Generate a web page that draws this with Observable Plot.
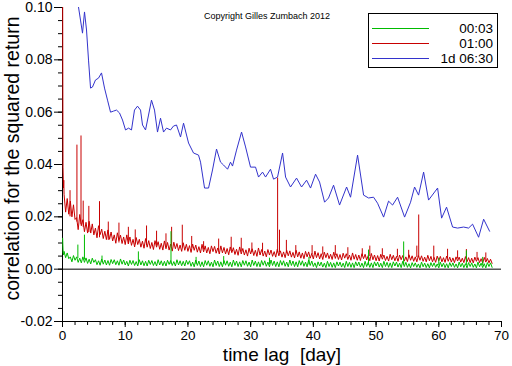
<!DOCTYPE html>
<html><head><meta charset="utf-8">
<script src="https://cdn.jsdelivr.net/npm/d3@7"></script>
<script src="https://cdn.jsdelivr.net/npm/@observablehq/plot@0.6"></script>
<style>body{margin:0;background:#fff;} svg{display:block;}</style>
</head><body><div id="chart"></div>
<script>
// ---- series identity ----
const seriesNames = ["00:03", "01:00", "1d 06:30"];
const seriesColors = ["#00bb00", "#c80000", "#3333cc"];

// ---- axis ticks ----
const xTicks = [0, 10, 20, 30, 40, 50, 60, 70];
const xMinorTicks = [0,2,4,6,8,10,12,14,16,18,20,22,24,26,28,30,32,34,36,38,40,42,44,46,48,50,52,54,56,58,60,62,64,66,68,70];
const yTicks = [-0.02, 0.00, 0.02, 0.04, 0.06, 0.08, 0.10];
const yMinorTicks = [-0.02,-0.015,-0.01,-0.005,0,0.005,0.01,0.015,0.02,0.025,0.03,0.035,0.04,0.045,0.05,0.055,0.06,0.065,0.07,0.075,0.08,0.085,0.09,0.095,0.1];

// ---- 00:03 and 01:00 : values on a regular lag grid (0.25, 0.50, ... 68.5 days), one row per day ----
const gridStep = 0.25;
const redVal = [
 .0286,.0218,.0270,.0210, .0260,.0200,.0246,.0190, .0197,.0151,.0209,.0166, .0189,.0143,.0179,.0138,
 .0183,.0138,.0173,.0131, .0157,.0120,.0166,.0132, .0153,.0117,.0145,.0113, .0150,.0114,.0142,.0108,
 .0131,.0099,.0139,.0109, .0130,.0098,.0123,.0094, .0131,.0097,.0123,.0091, .0114,.0085,.0121,.0094,
 .0114,.0084,.0107,.0080, .0117,.0084,.0109,.0079, .0102,.0075,.0109,.0084, .0105,.0076,.0099,.0073,
 .0108,.0078,.0102,.0073, .0096,.0069,.0103,.0078, .0098,.0071,.0092,.0068, .0101,.0072,.0095,.0068,
 .0090,.0064,.0096,.0072, .0092,.0065,.0086,.0062, .0095,.0066,.0089,.0062, .0083,.0059,.0089,.0067,
 .0087,.0061,.0081,.0058, .0089,.0062,.0083,.0058, .0079,.0055,.0085,.0063, .0082,.0056,.0076,.0053,
 .0085,.0058,.0079,.0054, .0074,.0050,.0080,.0058, .0078,.0052,.0072,.0049, .0081,.0054,.0075,.0050,
 .0069,.0047,.0075,.0054, .0073,.0049,.0067,.0046, .0076,.0051,.0070,.0046, .0066,.0044,.0072,.0051,
 .0070,.0046,.0064,.0043, .0072,.0047,.0066,.0042, .0062,.0040,.0068,.0047, .0066,.0042,.0060,.0039,
 .0069,.0044,.0063,.0039, .0059,.0037,.0065,.0044, .0062,.0040,.0057,.0037, .0065,.0041,.0059,.0037,
 .0056,.0035,.0061,.0042, .0059,.0037,.0054,.0034, .0062,.0038,.0056,.0034, .0054,.0033,.0059,.0040,
 .0057,.0035,.0052,.0032, .0060,.0036,.0054,.0032, .0052,.0031,.0057,.0038, .0054,.0033,.0049,.0031,
 .0057,.0036,.0053,.0032, .0049,.0030,.0054,.0036, .0052,.0031,.0047,.0029, .0055,.0034,.0051,.0030,
 .0047,.0028,.0052,.0034, .0051,.0030,.0046,.0028, .0053,.0032,.0049,.0028, .0045,.0026,.0050,.0032,
 .0049,.0028,.0044,.0026, .0050,.0030,.0046,.0027, .0043,.0025,.0047,.0031, .0046,.0027,.0042,.0025,
 .0048,.0028,.0044,.0025, .0042,.0024,.0046,.0030, .0044,.0025,.0040,.0023, .0045,.0027,.0041,.0024,
 .0038,.0022];
const greenVal = [
 .0068,.0044,.0062,.0040, .0047,.0028,.0052,.0034, .0047,.0026,.0042,.0024, .0047,.0026,.0043,.0022,
 .0038,.0020,.0042,.0026, .0036,.0017,.0032,.0015, .0039,.0019,.0035,.0016, .0033,.0015,.0037,.0021,
 .0036,.0017,.0032,.0015, .0039,.0019,.0035,.0016, .0030,.0012,.0034,.0018, .0033,.0014,.0029,.0012,
 .0036,.0016,.0032,.0013, .0030,.0012,.0034,.0018, .0033,.0014,.0029,.0012, .0036,.0016,.0032,.0013,
 .0030,.0012,.0034,.0018, .0033,.0014,.0029,.0012, .0036,.0016,.0032,.0013, .0030,.0012,.0034,.0018,
 .0032,.0011,.0027,.0009, .0035,.0014,.0031,.0010, .0028,.0009,.0033,.0015, .0032,.0011,.0027,.0009,
 .0035,.0014,.0031,.0010, .0028,.0009,.0033,.0015, .0032,.0011,.0027,.0009, .0035,.0014,.0031,.0010,
 .0028,.0009,.0033,.0015, .0032,.0011,.0027,.0009, .0035,.0014,.0031,.0010, .0028,.0009,.0033,.0015,
 .0032,.0011,.0027,.0009, .0035,.0014,.0031,.0010, .0028,.0009,.0033,.0015, .0032,.0011,.0027,.0009,
 .0035,.0014,.0031,.0010, .0028,.0009,.0033,.0015, .0032,.0011,.0027,.0009, .0035,.0014,.0031,.0010,
 .0024,.0006,.0028,.0012, .0027,.0008,.0023,.0006, .0030,.0010,.0026,.0007, .0024,.0006,.0028,.0012,
 .0027,.0008,.0023,.0006, .0030,.0010,.0026,.0007, .0024,.0006,.0028,.0012, .0027,.0008,.0023,.0006,
 .0030,.0010,.0026,.0007, .0024,.0006,.0028,.0012, .0027,.0008,.0023,.0006, .0030,.0010,.0026,.0007,
 .0024,.0006,.0028,.0012, .0027,.0008,.0023,.0006, .0030,.0010,.0026,.0007, .0021,.0005,.0025,.0010,
 .0024,.0007,.0020,.0005, .0027,.0009,.0023,.0006, .0021,.0005,.0025,.0010, .0024,.0007,.0020,.0005,
 .0027,.0009,.0023,.0006, .0021,.0005,.0025,.0010, .0024,.0007,.0020,.0005, .0027,.0009,.0023,.0006,
 .0021,.0005,.0025,.0010, .0024,.0007,.0020,.0005, .0027,.0009,.0023,.0006, .0021,.0005,.0025,.0010,
 .0024,.0007];

// very short lags (before the grid starts)
const redEarlyLag = [0.02, 0.08, 0.15, 0.20];
const redEarlyVal = [0.110, 0.039, 0.031, 0.034];
const greenEarlyLag = [0.02, 0.10, 0.18];
const greenEarlyVal = [0.0118, 0.0062, 0.0055];

// isolated spikes: lag, top, local level
const redSpikeLag  = [1.2, 2.3, 2.95, 3.3, 4.2, 5.9, 7.3, 9.0, 10.5, 11.6, 13.4, 15.0, 16.5, 17.4, 19.1, 20.6, 22.5, 24.9, 26.9, 28.5, 30.2, 31.9, 34.3, 34.6, 35.7, 37.2, 39.8, 41.5, 43.5, 45.5, 47.8, 49.0, 51.0, 53.4, 55.2, 56.5, 56.8, 59.2, 61.4, 63.0, 64.4, 66.1, 67.5];
const redSpikeTop  = [0.030, 0.0474, 0.0509, 0.026, 0.024, 0.0258, 0.018, 0.0176, 0.016, 0.015, 0.0165, 0.0145, 0.0135, 0.016, 0.0168, 0.0125, 0.0105, 0.0115, 0.0122, 0.0118, 0.0100, 0.0099, 0.0348, 0.0149, 0.011, 0.0090, 0.0090, 0.0085, 0.0090, 0.0082, 0.0078, 0.0088, 0.0078, 0.0076, 0.0072, 0.0088, 0.0207, 0.0088, 0.0076, 0.0070, 0.0075, 0.0064, 0.0062];
const redSpikeBase = [0.020, 0.018, 0.017, 0.016, 0.014, 0.012, 0.011, 0.010, 0.0095, 0.0093, 0.009, 0.0088, 0.0086, 0.0085, 0.0082, 0.008, 0.0074, 0.007, 0.0068, 0.0066, 0.0064, 0.0063, 0.0062, 0.0062, 0.0061, 0.006, 0.0056, 0.0054, 0.0052, 0.005, 0.0049, 0.0048, 0.0047, 0.0045, 0.0044, 0.0044, 0.0044, 0.0041, 0.004, 0.0039, 0.0038, 0.0036, 0.0034];
const greenSpikeLag  = [2.45, 3.5, 6.3, 12.1, 17.3, 21.3, 25.7, 33.0, 39.3, 48.8, 54.4, 60.0, 64.4, 67.0];
const greenSpikeTop  = [0.0092, 0.013, 0.0050, 0.0066, 0.0143, 0.0045, 0.0048, 0.0042, 0.0045, 0.0073, 0.0104, 0.0042, 0.0070, 0.0045];
const greenSpikeBase = [0.004, 0.0035, 0.0025, 0.002, 0.0018, 0.0018, 0.0018, 0.0017, 0.0016, 0.0015, 0.0015, 0.0014, 0.0014, 0.0013];

// ---- 1d 06:30 ----
const blueLag = [2.55,2.87,3.19,3.51,3.83,4.15,4.47,4.78,5.26,5.74,6.22,6.70,7.18,7.66,8.13,8.61,9.09,9.57,10.05,10.53,11.00,11.48,11.96,12.44,12.76,13.24,13.72,14.19,14.67,15.15,15.63,16.11,16.59,17.22,17.70,18.18,18.82,19.30,20.10,20.89,21.69,22.01,22.65,23.29,23.92,24.56,25.20,25.68,26.32,26.79,27.11,27.75,28.55,29.19,29.98,30.78,31.26,31.90,32.38,33.17,33.65,34.29,35.09,35.57,36.36,37.32,38.12,38.92,39.55,40.35,40.99,41.79,42.42,43.22,44.18,45.30,45.93,47.05,48.01,48.80,49.60,50.24,51.20,51.99,52.63,53.43,54.55,55.50,56.14,56.78,57.58,58.37,59.81,60.45,61.24,62.20,63.00,63.96,64.75,65.39,66.35,67.15,68.10];
const blueVal = [0.1002,0.0952,0.0902,0.0983,0.0914,0.0799,0.0692,0.0696,0.0723,0.0730,0.0750,0.0692,0.0646,0.0600,0.0604,0.0608,0.0597,0.0570,0.0532,0.0539,0.0532,0.0608,0.0623,0.0608,0.0551,0.0532,0.0589,0.0646,0.0608,0.0524,0.0577,0.0524,0.0539,0.0532,0.0547,0.0551,0.0505,0.0558,0.0482,0.0444,0.0436,0.0409,0.0310,0.0310,0.0379,0.0459,0.0409,0.0398,0.0382,0.0409,0.0394,0.0455,0.0524,0.0467,0.0390,0.0390,0.0352,0.0371,0.0352,0.0382,0.0344,0.0352,0.0444,0.0352,0.0314,0.0348,0.0314,0.0340,0.0310,0.0363,0.0333,0.0256,0.0272,0.0321,0.0245,0.0314,0.0275,0.0436,0.0283,0.0272,0.0275,0.0252,0.0199,0.0260,0.0245,0.0275,0.0199,0.0256,0.0314,0.0283,0.0371,0.0264,0.0310,0.0195,0.0237,0.0161,0.0157,0.0161,0.0157,0.0172,0.0122,0.0191,0.0145];

// ---- build tables ----
function gridSeries(vals, earlyLag, earlyVal) {
  const rows = earlyLag.map((l, i) => ({lag: l, v: earlyVal[i]}));
  vals.forEach((v, i) => rows.push({lag: gridStep * (i + 1), v}));
  return rows.sort((a, b) => a.lag - b.lag);
}
const red = gridSeries(redVal, redEarlyLag, redEarlyVal);
const green = gridSeries(greenVal, greenEarlyLag, greenEarlyVal);
const blue = blueLag.map((l, i) => ({lag: l, v: blueVal[i]}));
const redSpikes = redSpikeLag.map((l, i) => ({lag: l, top: redSpikeTop[i], base: redSpikeBase[i]}));
const greenSpikes = greenSpikeLag.map((l, i) => ({lag: l, top: greenSpikeTop[i], base: greenSpikeBase[i]}));

const font = "'Liberation Sans', Arial, sans-serif";
const chart = Plot.plot({
  width: 512, height: 366,
  marginLeft: 62, marginRight: 11, marginTop: 7, marginBottom: 45,
  style: {fontFamily: font, fontSize: "14px", background: "#fff", color: "#000"},
  x: {domain: [0, 70]},
  y: {domain: [-0.02, 0.10]},
  marks: [
    Plot.axisX({ticks: xMinorTicks, tickSize: 4, text: null, label: null}),
    Plot.axisX({ticks: xTicks, tickSize: 6, tickPadding: 3, fontSize: 13.5, tickFormat: d => String(d), label: null}),
    Plot.axisY({ticks: yMinorTicks, tickSize: 4, text: null, label: null}),
    Plot.axisY({ticks: yTicks, tickSize: 8, tickPadding: 2, fontSize: 14, tickFormat: d => d.toFixed(2), label: null}),
    Plot.ruleX([0], {stroke: "#000"}),
    Plot.ruleY([-0.02], {stroke: "#000"}),
    Plot.ruleY([0], {stroke: "#000"}),
    Plot.line(blue, {x: "lag", y: "v", stroke: seriesColors[2], strokeWidth: 1, clip: true}),
    Plot.line(red, {x: "lag", y: "v", stroke: seriesColors[1], strokeWidth: 1, clip: true}),
    Plot.ruleX(redSpikes, {x: "lag", y1: "base", y2: "top", stroke: seriesColors[1], strokeWidth: 1, clip: true}),
    Plot.line(green, {x: "lag", y: "v", stroke: seriesColors[0], strokeWidth: 1, clip: true}),
    Plot.ruleX(greenSpikes, {x: "lag", y1: "base", y2: "top", stroke: seriesColors[0], strokeWidth: 1, clip: true}),
    Plot.text(["correlation for the squared return"], {frameAnchor: "left", textAnchor: "middle", lineAnchor: "middle", rotate: -90, dx: -50, dy: -6, fontSize: 19.5, fill: "#000"}),
    Plot.text(["time lag  [day]"], {frameAnchor: "bottom", textAnchor: "middle", lineAnchor: "middle", dy: 33.5, fontSize: 19, fill: "#000"}),
    Plot.text(["Copyright Gilles Zumbach 2012"], {frameAnchor: "top", textAnchor: "middle", lineAnchor: "middle", dx: -15, dy: 8.6, fontSize: 9, fill: "#000"})
  ]
});
document.getElementById("chart").appendChild(chart);

// ---- legend box (upper right) ----
const svg = d3.select(chart);
const lg = svg.append("g").attr("font-family", font).attr("font-size", 13.5);
lg.append("rect").attr("x", 368.5).attr("y", 13.5).attr("width", 129).attr("height", 54)
  .attr("fill", "#fff").attr("stroke", "#000");
seriesNames.forEach((name, i) => {
  const y = 28 + 15 * i;
  lg.append("line").attr("x1", 372).attr("x2", 429).attr("y1", y + 0.5).attr("y2", y + 0.5)
    .attr("stroke", seriesColors[i]);
  lg.append("text").attr("x", 493).attr("y", y + 5).attr("text-anchor", "end").text(name);
});
</script>
</body></html>
